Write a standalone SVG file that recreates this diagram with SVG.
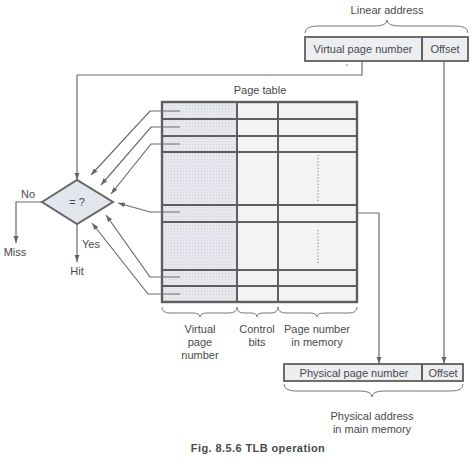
<svg xmlns="http://www.w3.org/2000/svg" width="475" height="467" viewBox="0 0 475 467">
<defs>
<marker id="ah" viewBox="0 0 10 10" refX="10" refY="5" markerWidth="7" markerHeight="7" orient="auto" markerUnits="userSpaceOnUse">
<path d="M0,1.5 L10,5 L0,8.5 Z" fill="#666"/>
</marker>
<pattern id="dots" width="3" height="3" patternUnits="userSpaceOnUse">
<rect width="3" height="3" fill="#e6e8ee"/>
<rect width="1" height="1" fill="#cfd3dc"/>
</pattern>
<style>
text{font-family:"Liberation Sans",Arial,sans-serif;fill:#4a4a4a;font-size:11px;text-anchor:middle}
.conn{fill:none;stroke:#6b6b6b;stroke-width:1.2}
.tl{stroke:#5e5e5e;stroke-width:2;fill:none}
.brace{fill:none;stroke:#777;stroke-width:1}
.box{fill:#eceef2;stroke:#5e5e5e;stroke-width:1.8}
</style>
</defs>
<rect width="475" height="467" fill="#ffffff"/>

<g id="linear-address">
<text x="387" y="14">Linear address</text>
<path class="brace" d="M305,33 Q305,26 318,26 L374,26 Q387,26 387,20 Q387,26 400,26 L455,26 Q468,26 468,33"/>
<rect class="box" x="305" y="37" width="163" height="24"/>
<line class="tl" x1="422" y1="37" x2="422" y2="61" stroke-width="1.8"/>
<text x="363" y="53">Virtual page number</text>
<text x="445" y="53">Offset</text>
<circle cx="347" cy="65" r="0.8" fill="#777"/>
</g>

<g id="page-table">
<text x="260" y="94" font-size="12">Page table</text>
<rect x="162" y="102" width="75" height="200" fill="url(#dots)"/>
<rect x="237" y="102" width="120" height="200" fill="#f2f3f5"/>
<path d="M318,155 V203 M318,230 V263" stroke="#777" stroke-width="1" stroke-dasharray="1.2,2"/>
<path class="tl" d="M162,119 H357 M162,136 H357 M162,152 H357 M162,205 H357 M162,222 H357 M162,270 H357 M162,286 H357 M237,102 V302 M278,102 V302"/>
<rect x="162" y="102" width="195" height="200" fill="none" stroke="#5e5e5e" stroke-width="2.4"/>
</g>

<g id="column-labels">
<path class="brace" d="M162,307 Q162,313 170,313 L192,313 Q200,313 200,317 Q200,313 208,313 L229,313 Q237,313 237,307"/>
<path class="brace" d="M237,307 Q237,313 244,313 L251,313 Q257,313 257,317 Q257,313 263,313 L271,313 Q278,313 278,307"/>
<path class="brace" d="M278,307 Q278,313 286,313 L309,313 Q317,313 317,317 Q317,313 325,313 L349,313 Q357,313 357,307"/>
<text x="200" y="333">Virtual</text>
<text x="200" y="346">page</text>
<text x="200" y="359">number</text>
<text x="257" y="333">Control</text>
<text x="257" y="346">bits</text>
<text x="317" y="333">Page number</text>
<text x="317" y="346">in memory</text>
</g>

<g id="compare">
<polygon points="42,202 77,180 113,202 77,224" fill="#e3e6ec" stroke="#666" stroke-width="2"/>
<text x="77" y="206">= ?</text>
<text x="28" y="198">No</text>
<text x="15" y="256">Miss</text>
<text x="91" y="248">Yes</text>
<text x="77" y="275">Hit</text>
</g>

<g id="physical-address">
<rect class="box" x="284" y="364" width="179" height="17"/>
<line class="tl" x1="422" y1="364" x2="422" y2="381" stroke-width="1.8"/>
<text x="354" y="377">Physical page number</text>
<text x="443" y="377">Offset</text>
<path class="brace" d="M284,384 Q284,391 296,391 L360,391 Q372,391 372,397 Q372,391 384,391 L451,391 Q463,391 463,384"/>
<text x="372" y="420">Physical address</text>
<text x="372" y="433">in main memory</text>
</g>

<g id="caption">
<text x="258" y="452" font-size="15" font-weight="bold" letter-spacing="0.4" fill="#444">Fig. 8.5.6 TLB operation</text>
</g>

<g id="connectors">
<path class="conn" d="M362,61 V75 H77" stroke="#6a9c80"/>
<path class="conn" d="M77,75 V180" marker-end="url(#ah)"/>
<path class="conn" d="M444,61 V364" marker-end="url(#ah)"/>
<path class="conn" d="M357,213 H379 V364" marker-end="url(#ah)"/>
<path class="conn" d="M180,111 H150 L91,175" marker-end="url(#ah)"/>
<path class="conn" d="M180,127 H151 L101,185" marker-end="url(#ah)"/>
<path class="conn" d="M180,144 H151 L111,194" marker-end="url(#ah)"/>
<path class="conn" d="M180,212 H150 L118,203" marker-end="url(#ah)"/>
<path class="conn" d="M180,277 H150 L106,215" marker-end="url(#ah)"/>
<path class="conn" d="M180,294 H148 L92,223" marker-end="url(#ah)"/>
<path class="conn" d="M42,202 H16 V243" marker-end="url(#ah)"/>
<path class="conn" d="M77,224 V262" marker-end="url(#ah)"/>
</g>
</svg>
